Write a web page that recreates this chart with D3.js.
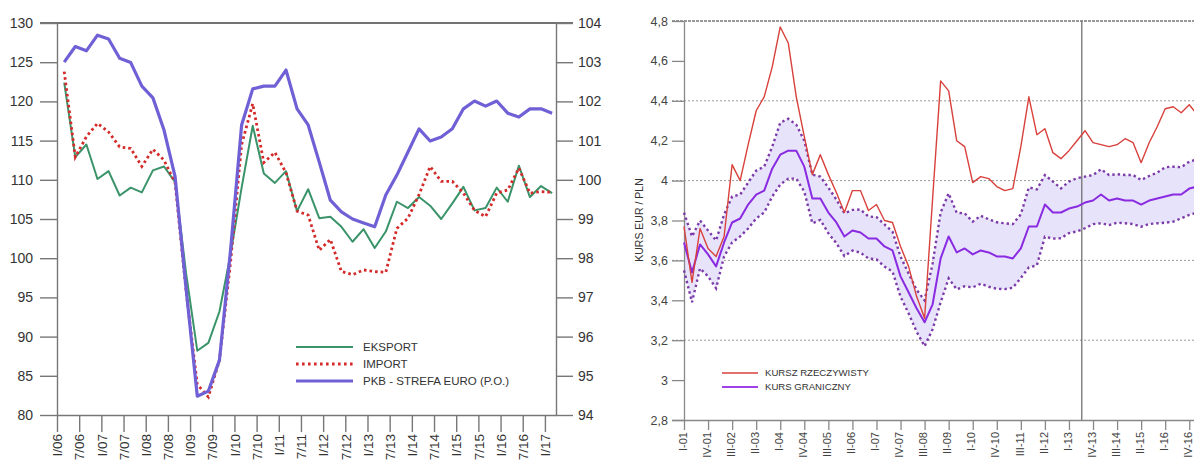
<!DOCTYPE html>
<html><head><meta charset="utf-8">
<script src="https://cdn.jsdelivr.net/npm/d3@7"></script>
<style>body{margin:0;background:#fff}svg{display:block;font-family:"Liberation Sans",Arial,sans-serif}</style>
</head><body><svg id="c" width="1194" height="463"></svg>
<script>
// ---------- LEFT CHART DATA (quarterly, Q1 2006 .. Q1 2017) ----------
const leftTickLabels = ["I/06","7/06","I/07","7/07","I/08","7/08","I/09","7/09","I/10","7/10","I/11","7/11","I/12","7/12","I/13","7/13","I/14","7/14","I/15","7/15","I/16","7/16","I/17"];
const leftYTicks = [80,85,90,95,100,105,110,115,120,125,130];
const rightYTicksLeftChart = [94,95,96,97,98,99,100,101,102,103,104];
const eksport = [122.4,112.9,114.5,110.1,111.1,108.0,109.0,108.4,111.2,111.7,109.7,98.0,88.2,89.2,93.2,100.5,109.0,116.9,110.8,109.6,111.1,106.0,108.8,105.1,105.3,104.0,102.1,103.7,101.3,103.4,107.2,106.4,107.8,106.7,105.0,107.0,109.1,106.1,106.4,109.0,107.2,111.8,107.8,109.2,108.3];
const importSeries = [123.8,112.9,115.5,117.2,116.1,114.2,114.0,111.7,113.9,112.5,109.6,95.7,83.9,82.3,87.0,99.5,114.5,119.7,112.2,113.5,110.9,106.0,105.5,101.0,102.4,98.3,97.9,98.5,98.3,98.2,103.8,105.1,108.1,111.7,109.8,109.8,108.3,106.1,105.3,108.3,108.7,111.5,108.3,108.5,108.4];
const pkbEuro = [103.0,103.4,103.29,103.69,103.59,103.1,102.99,102.39,102.09,101.27,100.08,97.2,94.48,94.61,95.4,98.2,101.4,102.32,102.39,102.39,102.8,101.81,101.4,100.45,99.48,99.18,99.0,98.9,98.8,99.61,100.12,100.71,101.3,100.99,101.09,101.3,101.81,102.01,101.88,102.01,101.7,101.6,101.81,101.81,101.7];
const leftLegend = ["EKSPORT","IMPORT","PKB - STREFA EURO (P.O.)"];

// ---------- RIGHT CHART DATA (quarterly from I-01) ----------
const rightTickLabels = ["I-01","IV-01","III-02","II-03","I-04","IV-04","III-05","II-06","I-07","IV-07","III-08","II-09","I-10","IV-10","III-11","II-12","I-13","IV-13","III-14","II-15","I-16","IV-16"];
const rightYTicks = [2.8,3.0,3.2,3.4,3.6,3.8,4.0,4.2,4.4,4.6,4.8];
const rightGrid = [3.2,3.6,4.0,4.4];
const kursRzeczywisty = [3.77,3.49,3.76,3.66,3.62,3.72,4.08,4.00,4.18,4.35,4.42,4.57,4.77,4.69,4.42,4.22,4.03,4.13,4.03,3.94,3.84,3.95,3.95,3.85,3.88,3.80,3.79,3.67,3.57,3.42,3.31,3.91,4.50,4.45,4.20,4.17,3.99,4.02,4.01,3.97,3.95,3.96,4.17,4.42,4.23,4.26,4.14,4.11,4.15,4.20,4.25,4.19,4.18,4.17,4.18,4.21,4.19,4.09,4.19,4.27,4.36,4.37,4.34,4.38,4.33];
const kursGraniczny = [3.69,3.54,3.68,3.63,3.57,3.69,3.79,3.81,3.88,3.93,3.95,4.06,4.13,4.15,4.15,4.07,3.91,3.91,3.84,3.79,3.72,3.75,3.74,3.71,3.71,3.67,3.65,3.52,3.44,3.36,3.29,3.38,3.61,3.72,3.64,3.66,3.63,3.65,3.64,3.62,3.62,3.61,3.66,3.77,3.77,3.88,3.84,3.84,3.86,3.87,3.89,3.90,3.93,3.90,3.91,3.90,3.90,3.88,3.90,3.91,3.92,3.93,3.93,3.96,3.97];
const kursUpper = [3.84,3.72,3.80,3.75,3.70,3.83,3.92,3.93,3.99,4.05,4.07,4.17,4.29,4.31,4.28,4.20,4.03,4.02,3.965,3.905,3.836,3.853,3.855,3.82,3.817,3.78,3.744,3.619,3.535,3.452,3.40,3.585,3.84,3.936,3.839,3.836,3.794,3.824,3.806,3.791,3.786,3.782,3.831,3.966,3.956,4.028,3.995,3.961,3.995,4.012,4.02,4.028,4.057,4.028,4.032,4.028,4.028,4.003,4.023,4.04,4.067,4.07,4.067,4.095,4.107];
const kursLower = [3.55,3.39,3.56,3.52,3.46,3.62,3.69,3.72,3.76,3.81,3.84,3.92,3.98,4.01,4.01,3.945,3.786,3.803,3.736,3.686,3.622,3.649,3.639,3.61,3.605,3.569,3.544,3.418,3.335,3.243,3.17,3.255,3.39,3.51,3.455,3.47,3.465,3.483,3.468,3.458,3.456,3.463,3.512,3.565,3.575,3.719,3.709,3.711,3.737,3.745,3.761,3.782,3.786,3.777,3.789,3.786,3.782,3.769,3.782,3.786,3.789,3.794,3.811,3.828,3.839];
const verticalMarker = [49.6];
const rightLegend = ["KURSZ RZECZYWISTY","KURS GRANICZNY"];
const rightYLabel = "KURS EUR / PLN";

const svg = d3.select("#c");
svg.append("rect").attr("width",1194).attr("height",463).attr("fill","#fff");

// ================= LEFT CHART =================
const L = {x0:57, x1:556, y0:23, y1:415};
const xL = d3.scaleLinear().domain([0,45]).range([L.x0,L.x1]);
const yL = d3.scaleLinear().domain([80,130]).range([L.y1,L.y0]);
const yR = d3.scaleLinear().domain([94,104]).range([L.y1,L.y0]);
const off = 0.65;
const axCol = "#777";

const gL = svg.append("g");
gL.append("line").attr("x1",L.x0-17).attr("x2",L.x1+17).attr("y1",L.y0).attr("y2",L.y0).attr("stroke","#444").attr("stroke-width",1.3);

const ayL = gL.append("g").attr("transform",`translate(${L.x0},0)`)
  .call(d3.axisLeft(yL).tickValues(leftYTicks).tickSize(17).tickSizeOuter(0).tickPadding(7).tickFormat(d3.format("d")));
const ayR = gL.append("g").attr("transform",`translate(${L.x1},0)`)
  .call(d3.axisRight(yR).tickValues(rightYTicksLeftChart).tickSize(17).tickSizeOuter(0).tickPadding(5).tickFormat(d3.format("d")));
const axB = gL.append("g").attr("transform",`translate(0,${L.y1})`)
  .call(d3.axisBottom(xL).tickValues(d3.range(0,45,2)).tickSize(17).tickSizeOuter(0).tickFormat((d,i)=>leftTickLabels[i]));
axB.selectAll("text").attr("transform","rotate(-90)").attr("x",-19).attr("y",0).attr("dy","0.35em").style("text-anchor","end");
[ayL,ayR,axB].forEach(a=>{
  a.selectAll("path,line").attr("stroke",axCol).attr("stroke-width",1.4);
  a.selectAll("text").attr("fill","#333").style("font-size","14px");
});
axB.selectAll("text").style("font-size","13.5px");

const lineL = d3.line().x((d,i)=>xL(i+off)).y(d=>yL(d));
const lineR = d3.line().x((d,i)=>xL(i+off)).y(d=>yR(d));
gL.append("path").datum(eksport).attr("d",lineL).attr("fill","none").attr("stroke","#3a9369").attr("stroke-width",2).attr("stroke-linejoin","round");
gL.append("path").datum(importSeries).attr("d",lineL).attr("fill","none").attr("stroke","#d42a2a").attr("stroke-width",2.8).attr("stroke-dasharray","2.6,3");
gL.append("path").datum(pkbEuro).attr("d",lineR).attr("fill","none").attr("stroke","#7060d6").attr("stroke-width",3.2).attr("stroke-linejoin","round");

const legL = gL.append("g");
const legStyles = [
  {c:"#3a9369",w:2,dash:null},
  {c:"#d42a2a",w:2.8,dash:"2.6,3.4"},
  {c:"#7060d6",w:3.2,dash:null}];
leftLegend.forEach((t,i)=>{
  const y = 347 + i*17;
  legL.append("line").attr("x1",296).attr("x2",353).attr("y1",y).attr("y2",y)
    .attr("stroke",legStyles[i].c).attr("stroke-width",legStyles[i].w).attr("stroke-dasharray",legStyles[i].dash);
  legL.append("text").attr("x",363).attr("y",y).attr("dy","0.35em").attr("fill","#333").style("font-size","11.5px").text(t);
});

// ================= RIGHT CHART =================
const R = {x0:684, y0:21, y1:420};
const step = 8.02;
const xK = d3.scaleLinear().domain([0,64]).range([R.x0, R.x0+step*64]);
const yK = d3.scaleLinear().domain([2.8,4.8]).range([R.y1,R.y0]);
const gR = svg.append("g");
const fmtK = v => String(+v.toFixed(1)).replace(".",",");

gR.selectAll(".grid").data(rightGrid).join("line")
  .attr("x1",R.x0-12).attr("x2",1194).attr("y1",d=>yK(d)).attr("y2",d=>yK(d))
  .attr("stroke","#9a9a9a").attr("stroke-width",1).attr("stroke-dasharray","2,2");
gR.append("line").attr("x1",R.x0-12).attr("x2",1194).attr("y1",yK(4.8)).attr("y2",yK(4.8))
  .attr("stroke","#333").attr("stroke-width",1).attr("stroke-dasharray","3,1");

const area = d3.area().x((d,i)=>xK(i)).y0((d,i)=>yK(kursLower[i])).y1(d=>yK(d));
gR.append("path").datum(kursUpper).attr("d",area).attr("fill","#e6e3fb");

gR.selectAll(".vm").data(verticalMarker).join("line")
  .attr("x1",d=>xK(d)).attr("x2",d=>xK(d)).attr("y1",R.y0).attr("y2",R.y1)
  .attr("stroke","#666").attr("stroke-width",1.2);

const ayK = gR.append("g").attr("transform",`translate(${R.x0},0)`)
  .call(d3.axisLeft(yK).tickValues(rightYTicks).tickSize(12).tickSizeOuter(0).tickPadding(4).tickFormat(fmtK));
const axK = gR.append("g").attr("transform",`translate(0,${R.y1})`)
  .call(d3.axisBottom(xK).tickValues(d3.range(0,64,3)).tickSize(10).tickSizeOuter(0).tickFormat((d,i)=>rightTickLabels[i]));
axK.select(".domain").attr("d",`M${R.x0-12},0.5H1194`);
[ayK,axK].forEach(a=>{
  a.selectAll("path,line").attr("stroke","#888").attr("stroke-width",1.3);
  a.selectAll("text").attr("fill","#444").style("font-size","12.5px");
});
axK.selectAll("text").attr("transform","rotate(-90)").attr("x",-12).attr("y",0).attr("dy","0.2em")
  .style("text-anchor","end").style("font-size","11px");

const lineK = d3.line().x((d,i)=>xK(i)).y(d=>yK(d));
gR.append("path").datum(kursUpper).attr("d",lineK).attr("fill","none").attr("stroke","#7b3aa8").attr("stroke-width",2.4).attr("stroke-dasharray","2.4,3");
gR.append("path").datum(kursLower).attr("d",lineK).attr("fill","none").attr("stroke","#7b3aa8").attr("stroke-width",2.4).attr("stroke-dasharray","2.4,3");
gR.append("path").datum(kursGraniczny).attr("d",lineK).attr("fill","none").attr("stroke","#8a2be2").attr("stroke-width",2).attr("stroke-linejoin","round");
gR.append("path").datum(kursRzeczywisty).attr("d",lineK).attr("fill","none").attr("stroke","#d8403c").attr("stroke-width",1.4).attr("stroke-linejoin","round");

gR.append("text").attr("transform",`translate(643,220) rotate(-90)`).attr("text-anchor","middle")
  .attr("fill","#333").style("font-size","10.5px").text(rightYLabel);

const legR = [{c:"#d8403c",w:1.6},{c:"#a040e8",w:2.2}];
rightLegend.forEach((t,i)=>{
  const y = 373 + i*14;
  gR.append("line").attr("x1",722).attr("x2",758).attr("y1",y).attr("y2",y).attr("stroke",legR[i].c).attr("stroke-width",legR[i].w);
  gR.append("text").attr("x",765).attr("y",y).attr("dy","0.35em").attr("fill","#333").style("font-size","9.6px").text(t);
});
</script></body></html>
